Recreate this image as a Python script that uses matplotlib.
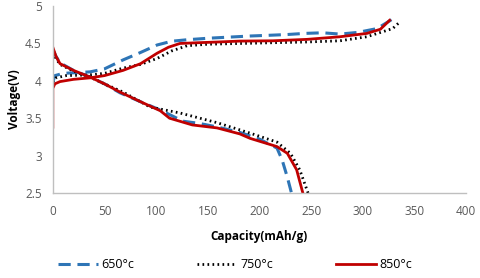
import numpy as np
import matplotlib
matplotlib.use('Agg')
import matplotlib.pyplot as plt

plt.rcParams['font.family'] = ['Open Sans', 'DejaVu Sans']

labels = ['650°c', '750°c', '850°c']

# charge curves
c650_x = [0, 2, 10, 36, 50, 68, 85, 101, 115, 130, 150, 191, 210, 227, 244, 261, 278, 295, 314, 328]
c650_y = [3.98, 4.07, 4.1, 4.12, 4.16, 4.28, 4.38, 4.48, 4.53, 4.55, 4.57, 4.6, 4.61, 4.62, 4.635, 4.643, 4.626, 4.648, 4.70, 4.82]
c750_x = [0, 3, 13, 36, 50, 68, 85, 101, 115, 130, 150, 181, 213, 246, 278, 304, 320, 329, 336]
c750_y = [3.98, 4.04, 4.07, 4.08, 4.1, 4.17, 4.22, 4.3, 4.4, 4.47, 4.49, 4.50, 4.51, 4.52, 4.536, 4.59, 4.66, 4.70, 4.79]
c850_x = [0, 0, 2, 7, 20, 36, 50, 68, 85, 101, 112, 123, 140, 160, 181, 213, 246, 278, 304, 317, 326]
c850_y = [3.38, 3.9, 3.96, 3.99, 4.02, 4.04, 4.07, 4.14, 4.23, 4.37, 4.45, 4.5, 4.51, 4.52, 4.532, 4.536, 4.555, 4.59, 4.635, 4.69, 4.81]

# discharge curves
d650_x = [0, 3, 7, 20, 36, 50, 65, 85, 104, 126, 142, 160, 181, 200, 217, 222, 227, 231]
d650_y = [4.42, 4.33, 4.24, 4.14, 4.05, 3.96, 3.84, 3.72, 3.61, 3.46, 3.43, 3.38, 3.31, 3.22, 3.1, 2.94, 2.71, 2.5]
d750_x = [0, 3, 7, 20, 36, 50, 68, 94, 123, 159, 191, 217, 230, 239, 246, 247]
d750_y = [4.38, 4.3, 4.22, 4.13, 4.05, 3.96, 3.85, 3.65, 3.57, 3.44, 3.30, 3.18, 3.03, 2.81, 2.54, 2.5]
d850_x = [0, 3, 7, 20, 36, 50, 65, 85, 104, 113, 135, 159, 181, 191, 217, 227, 236, 242]
d850_y = [4.45, 4.33, 4.23, 4.14, 4.05, 3.96, 3.85, 3.72, 3.6, 3.5, 3.41, 3.37, 3.29, 3.23, 3.12, 3.03, 2.81, 2.5]

blue = '#2E75B6'
red = '#C00000'

fig = plt.figure(figsize=(4.8, 2.78), dpi=100)
ax = fig.add_axes([0.110, 0.306, 0.861, 0.672])

st650 = dict(color=blue, lw=2.2, dashes=(4, 2.2))
st750 = dict(color='black', lw=2.0, linestyle=(0, (0.6, 1.2)))
st850 = dict(color=red, lw=2.0)

ax.plot(c650_x, c650_y, label=labels[0], **st650)
ax.plot(d650_x, d650_y, **st650)
ax.plot(c750_x, c750_y, label=labels[1], **st750)
ax.plot(d750_x, d750_y, **st750)
ax.plot(c850_x, c850_y, label=labels[2], **st850)
ax.plot(d850_x, d850_y, **st850)

ax.set_xlim(0, 400)
ax.set_ylim(2.5, 5)
ax.set_xticks(np.arange(0, 401, 50))
ax.set_yticks([2.5, 3, 3.5, 4, 4.5, 5])
ax.set_yticklabels(['2.5', '3', '3.5', '4', '4.5', '5'])
ax.tick_params(length=0, labelsize=8.5, colors='#595959')
ax.tick_params(axis='x', pad=9)
ax.tick_params(axis='y', pad=8)
for s in ['top', 'right']:
    ax.spines[s].set_visible(False)
for s in ['left', 'bottom']:
    ax.spines[s].set_color('#BFBFBF')
    ax.spines[s].set_linewidth(1)

ax.set_xlabel('Capacity(mAh/g)', fontsize=8.5, fontweight='bold', labelpad=8)
ax.set_ylabel('Voltage(V)', fontsize=8.5, fontweight='bold', labelpad=3)

fig.legend(loc='lower center', bbox_to_anchor=(0.49, -0.015), ncol=3, frameon=False,
           fontsize=9, handlelength=3.2, handletextpad=0.3, columnspacing=5)

fig.savefig('out.png', dpi=100)
